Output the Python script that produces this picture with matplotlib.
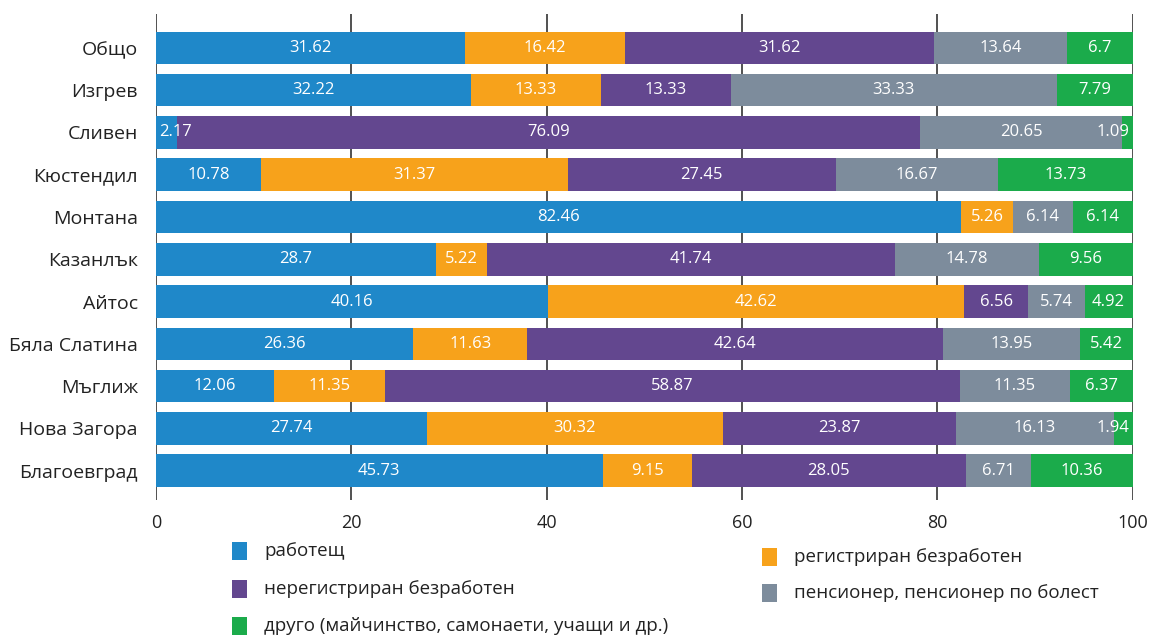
import matplotlib
matplotlib.use("Agg")
import matplotlib.pyplot as plt
from matplotlib.patches import Rectangle
import numpy as np

plt.rcParams['font.family'] = ['Open Sans', 'DejaVu Sans']

categories = ["Общо", "Изгрев", "Сливен", "Кюстендил", "Монтана", "Казанлък",
              "Айтос", "Бяла Слатина", "Мъглиж", "Нова Загора", "Благоевград"]
series_names = ["работещ", "регистриран безработен", "нерегистриран безработен",
                "пенсионер, пенсионер по болест", "друго (майчинство, самонаети, учащи и др.)"]
working = [31.62, 32.22, 2.17, 10.78, 82.46, 28.7, 40.16, 26.36, 12.06, 27.74, 45.73]
registered = [16.42, 13.33, 0, 31.37, 5.26, 5.22, 42.62, 11.63, 11.35, 30.32, 9.15]
unregistered = [31.62, 13.33, 76.09, 27.45, 0, 41.74, 6.56, 42.64, 58.87, 23.87, 28.05]
pensioner = [13.64, 33.33, 20.65, 16.67, 6.14, 14.78, 5.74, 13.95, 11.35, 16.13, 6.71]
other = [6.7, 7.79, 1.09, 13.73, 6.14, 9.56, 4.92, 5.42, 6.37, 1.94, 10.36]
xticks = [0, 20, 40, 60, 80, 100]

colors = ["#1f88c9", "#f7a21b", "#63478f", "#7d8c9c", "#1bab4b"]
series = [working, registered, unregistered, pensioner, other]

fig = plt.figure(figsize=(11.51, 6.36), dpi=100)
ax = fig.add_axes([0.1355, 0.214, 0.8485, 0.764])

y = np.arange(len(categories))
left = np.zeros(len(categories))
for vals, col in zip(series, colors):
    vals = np.array(vals, dtype=float)
    ax.barh(y, vals, left=left, height=0.77, color=col, zorder=2)
    for i, v in enumerate(vals):
        if v <= 0:
            continue
        txt = f"{v:g}"
        if v < 3 and left[i] == 0:
            ax.text(left[i] + 0.3, y[i], txt, ha='left', va='center',
                    color='white', fontsize=12, zorder=3)
        elif v < 3 and left[i] + v > 99.9:
            ax.text(99.7, y[i], txt, ha='right', va='center',
                    color='white', fontsize=12, zorder=3)
        else:
            ax.text(left[i] + v / 2, y[i], txt, ha='center', va='center',
                    color='white', fontsize=12, zorder=3)
    left += vals

ax.set_xlim(0, 100)
ax.set_ylim(10.69, -0.8)
ax.set_yticks(y)
ax.set_yticklabels(categories, fontsize=14, color='#222222')
ax.set_xticks(xticks)
ax.set_xticklabels([str(t) for t in xticks], fontsize=13, color='#222222')
ax.tick_params(axis='y', length=0, pad=13)
ax.tick_params(axis='x', length=0, pad=10)
for s in ax.spines.values():
    s.set_visible(False)
for t in xticks:
    ax.axvline(t, color='#333333', lw=1.2, zorder=1)

# legend
W, H = 1151, 636
def legend_item(xm, yc, col, label):
    fig.add_artist(Rectangle((xm / W, 1 - (yc + 9) / H), 15 / W, 18 / H,
                             transform=fig.transFigure, color=col, lw=0))
    fig.text((xm + 32) / W, 1 - yc / H, label, ha='left', va='center',
             fontsize=13.5, color='#222222')

legend_item(232, 551, colors[0], series_names[0])
legend_item(232, 589, colors[2], series_names[2])
legend_item(232, 626, colors[4], series_names[4])
legend_item(762, 557, colors[1], series_names[1])
legend_item(762, 593, colors[3], series_names[3])

fig.savefig("out.png", dpi=100)
